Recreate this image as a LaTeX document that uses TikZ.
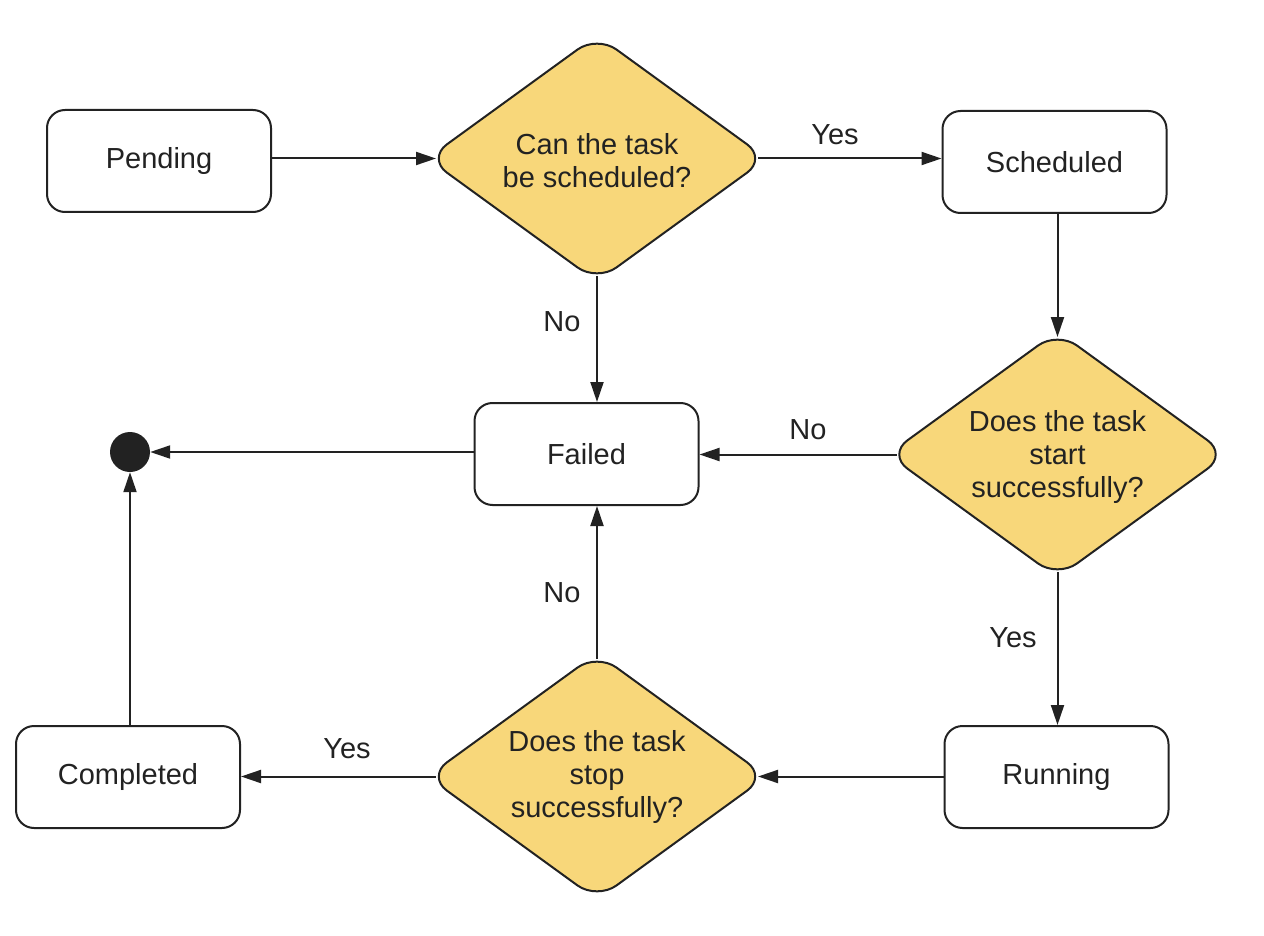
\documentclass[tikz,border=0pt]{standalone}
\usepackage{fontspec}
\setmainfont{Liberation Sans}
\usetikzlibrary{shapes.geometric,arrows.meta}
\definecolor{dfill}{HTML}{F8D77A}
\definecolor{ink}{HTML}{222222}
\begin{document}
\begin{tikzpicture}[x=1pt,y=-1pt,
  every node/.style={font=\fontsize{29}{33}\selectfont, text=ink},
  state/.style={draw=ink, line width=2pt, rounded corners=18pt, fill=white,
    minimum width=224pt, minimum height=102pt, inner sep=0pt},
  dia/.style={diamond, draw=ink, line width=2pt, rounded corners=24pt, fill=dfill,
    minimum width=340pt, minimum height=247pt, inner sep=0pt},
  dtext/.style={align=center, inner sep=0pt},
  conn/.style={draw=ink, line width=2pt, -{Triangle[length=20pt,width=13pt]}},
  lbl/.style={inner sep=0pt}]
\useasboundingbox (0,0) rectangle (1264,936);
% states
\node[state] (pend) at (159,161) {Pending};
\node[state] (sched) at (1054.5,162) {Scheduled};
\node[state] (fail) at (586.5,454) {Failed};
\node[state] (comp) at (128,777) {Completed};
\node[state] (run) at (1056.5,777) {Running};
\node[circle, fill=ink, minimum size=40pt, inner sep=0pt] (dot) at (130,452) {};
% decisions
\node[dia] (d1) at (597,158.5) {};
\node[dtext] at (597,161) {Can the task\\be scheduled?};
\node[dia] (d2) at (1057.5,454.5) {};
\node[dtext] at (1057.5,457) {Does the task\\start\\successfully?};
\node[dia] (d3) at (597,776.5) {};
\node[dtext] at (597,777) {Does the task\\stop\\successfully?};
% visible tips of the rounded diamonds
\coordinate (d1w) at ([xshift=10pt]d1.west);
\coordinate (d1e) at ([xshift=-10pt]d1.east);
\coordinate (d1s) at ([yshift=7pt]d1.south);
\coordinate (d2n) at ([yshift=-7pt]d2.north);
\coordinate (d2w) at ([xshift=10pt]d2.west);
\coordinate (d2s) at ([yshift=7pt]d2.south);
\coordinate (d3e) at ([xshift=-10pt]d3.east);
\coordinate (d3w) at ([xshift=10pt]d3.west);
\coordinate (d3n) at ([yshift=-7pt]d3.north);
% connectors
\draw[conn] (pend.east |- d1w) -- (d1w);
\draw[conn] (d1e) -- (d1e -| sched.west);
\draw[conn] (d1s) -- (d1s |- fail.north);
\draw[conn] (sched.south -| d2n) -- (d2n);
\draw[conn] (d2w) -- (d2w -| fail.east);
\draw[conn] (fail.west |- dot.east) -- (dot.east);
\draw[conn] (d2s) -- (d2s |- run.north);
\draw[conn] (run.west |- d3e) -- (d3e);
\draw[conn] (d3n) -- (d3n |- fail.south);
\draw[conn] (d3w) -- (d3w -| comp.east);
\draw[conn] (comp.north -| dot.south) -- (dot.south);
% labels
\node[lbl] at (835,135) {Yes};
\node[lbl] at (562,322) {No};
\node[lbl] at (808,430) {No};
\node[lbl] at (1013,638) {Yes};
\node[lbl] at (562,593) {No};
\node[lbl] at (347,749) {Yes};
\end{tikzpicture}
\end{document}
